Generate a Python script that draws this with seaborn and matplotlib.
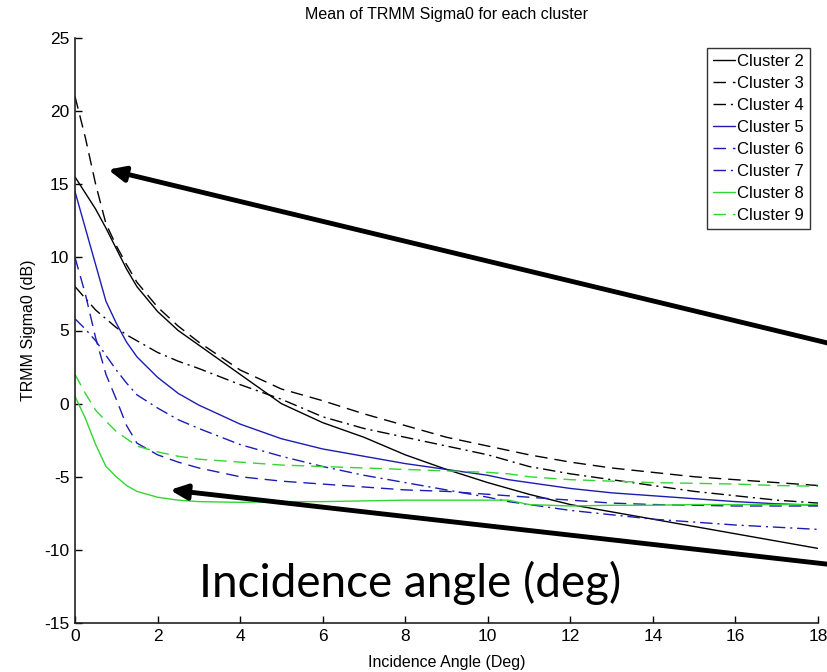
import numpy as np
import pandas as pd
import matplotlib
matplotlib.use("Agg")
import matplotlib.pyplot as plt
import seaborn as sns

# ---- data ----
angle = [0, 0.25, 0.5, 0.75, 1, 1.25, 1.5, 2, 2.5, 3, 4, 5, 6, 7, 8, 9, 10, 10.5, 11, 12, 13, 14, 15, 16, 17, 18]

cluster2 = [15.5, 14.4, 13.3, 12.0, 10.6, 9.2, 8.0, 6.3, 5.0, 4.0, 2.0, 0.0, -1.3, -2.3, -3.5, -4.5, -5.4, -5.8, -6.2, -6.9, -7.4, -7.9, -8.4, -8.9, -9.4, -9.9]
cluster3 = [21.0, 18.2, 15.0, 12.3, 10.8, 9.5, 8.3, 6.6, 5.3, 4.2, 2.3, 1.0, 0.2, -0.7, -1.5, -2.3, -2.9, -3.2, -3.5, -4.0, -4.4, -4.7, -5.0, -5.2, -5.4, -5.6]
cluster4 = [8.0, 7.2, 6.4, 5.8, 5.2, 4.7, 4.3, 3.5, 2.9, 2.4, 1.3, 0.3, -0.9, -1.7, -2.3, -2.9, -3.5, -3.9, -4.3, -4.8, -5.2, -5.6, -6.0, -6.3, -6.6, -6.8]
cluster5 = [14.5, 12.0, 9.5, 7.0, 5.5, 4.2, 3.2, 1.8, 0.7, -0.1, -1.4, -2.4, -3.1, -3.6, -4.1, -4.5, -4.9, -5.2, -5.4, -5.8, -6.1, -6.3, -6.5, -6.7, -6.85, -6.95]
cluster6 = [10.0, 7.5, 4.5, 2.0, 0.3, -1.5, -2.7, -3.5, -4.0, -4.4, -5.0, -5.3, -5.5, -5.7, -5.9, -6.0, -6.2, -6.3, -6.4, -6.6, -6.8, -6.9, -6.95, -7.0, -7.0, -7.0]
cluster7 = [5.8, 5.1, 4.3, 3.3, 2.3, 1.4, 0.6, -0.3, -1.1, -1.7, -2.8, -3.6, -4.3, -4.9, -5.4, -5.9, -6.4, -6.7, -6.9, -7.3, -7.6, -7.9, -8.1, -8.3, -8.45, -8.6]
cluster8 = [0.5, -1.0, -2.8, -4.3, -5.0, -5.6, -6.0, -6.4, -6.6, -6.7, -6.75, -6.7, -6.7, -6.65, -6.6, -6.6, -6.6, -6.6, -6.9, -7.0, -6.95, -6.95, -6.9, -6.9, -6.9, -6.9]
cluster9 = [2.0, 0.7, -0.45, -1.2, -1.9, -2.4, -2.9, -3.3, -3.6, -3.8, -4.0, -4.2, -4.3, -4.4, -4.5, -4.6, -4.7, -4.8, -5.0, -5.2, -5.3, -5.4, -5.45, -5.5, -5.6, -5.65]

labels = ["Cluster 2", "Cluster 3", "Cluster 4", "Cluster 5",
          "Cluster 6", "Cluster 7", "Cluster 8", "Cluster 9"]
series = [cluster2, cluster3, cluster4, cluster5, cluster6, cluster7, cluster8, cluster9]

title_text = "Mean of TRMM Sigma0 for each cluster"
xlabel_text = "Incidence Angle (Deg)"
ylabel_text = "TRMM Sigma0 (dB)"
overlay_text = "Incidence angle (deg)"

# ---- styling ----
sns.set_style("ticks")
plt.rcParams['font.family'] = ['Liberation Sans Narrow', 'Liberation Sans', 'DejaVu Sans']
plt.rcParams['axes.unicode_minus'] = False
plt.rcParams['text.color'] = 'black'
plt.rcParams['axes.labelcolor'] = 'black'
plt.rcParams['xtick.color'] = 'black'
plt.rcParams['ytick.color'] = 'black'

BLACK = "#000000"
BLUE = "#1c1cb4"
GREEN = "#33d633"
SOLID = "-"
DASH = (0, (9, 5))
DASHDOT = (0, (9, 3.5, 1.5, 3.5))
colors = [BLACK, BLACK, BLACK, BLUE, BLUE, BLUE, GREEN, GREEN]
styles = [SOLID, DASH, DASHDOT, SOLID, DASH, DASHDOT, SOLID, DASH]

fig = plt.figure(figsize=(8.28, 6.72), dpi=100)
ax = fig.add_axes([75 / 828, 1 - 623 / 672, (818 - 75) / 828, (623 - 38) / 672])

for lab, ys, c, ls in zip(labels, series, colors, styles):
    df = pd.DataFrame({"angle": angle, "sigma0": ys})
    sns.lineplot(data=df, x="angle", y="sigma0", color=c, linestyle=ls,
                 linewidth=1.0, label=lab, ax=ax, estimator=None)

ax.set_xlim(0, 18)
ax.set_ylim(-15, 25)
ax.set_xticks(np.arange(0, 19, 2))
ax.set_yticks(np.arange(-15, 26, 5))
ax.tick_params(direction="in", length=5, width=1, labelsize=12.5, pad=4, colors="black")
for s in ["top", "right"]:
    ax.spines[s].set_visible(False)
for s in ["left", "bottom"]:
    ax.spines[s].set_linewidth(1.2)
    ax.spines[s].set_color("#222222")

ax.set_title(title_text, fontsize=11.5, pad=14, color="black")
ax.set_xlabel(xlabel_text, fontsize=11.5, labelpad=8, color="black")
ax.set_ylabel(ylabel_text, fontsize=11.5, labelpad=6, color="black")

leg = ax.legend(loc="upper right", bbox_to_anchor=(810 / 828, 1 - 48 / 672),
                bbox_transform=fig.transFigure, frameon=True, fancybox=False,
                fontsize=12, handlelength=1.3, handletextpad=0.15,
                labelspacing=0.42, borderpad=0.35, borderaxespad=0)
leg.get_frame().set_edgecolor("black")
leg.get_frame().set_linewidth(1.0)
for t in leg.get_texts():
    t.set_color("black")

# overlay annotations
ax.annotate("", xy=(0.8, 16.0), xytext=(18.3, 4.1),
            arrowprops=dict(arrowstyle="-|>,head_length=1.0,head_width=0.45",
                            color="black", lw=3.5, shrinkA=0, shrinkB=0),
            annotation_clip=False)
ax.annotate("", xy=(2.3, -5.9), xytext=(18.3, -11.0),
            arrowprops=dict(arrowstyle="-|>,head_length=1.0,head_width=0.45",
                            color="black", lw=3.5, shrinkA=0, shrinkB=0),
            annotation_clip=False)
fig.text(410 / 828, 1 - 597 / 672, overlay_text, fontsize=33, color="black",
         family=['Lato', 'DejaVu Sans'], ha="center", va="baseline")

fig.savefig("out.png", dpi=100, facecolor="white")
